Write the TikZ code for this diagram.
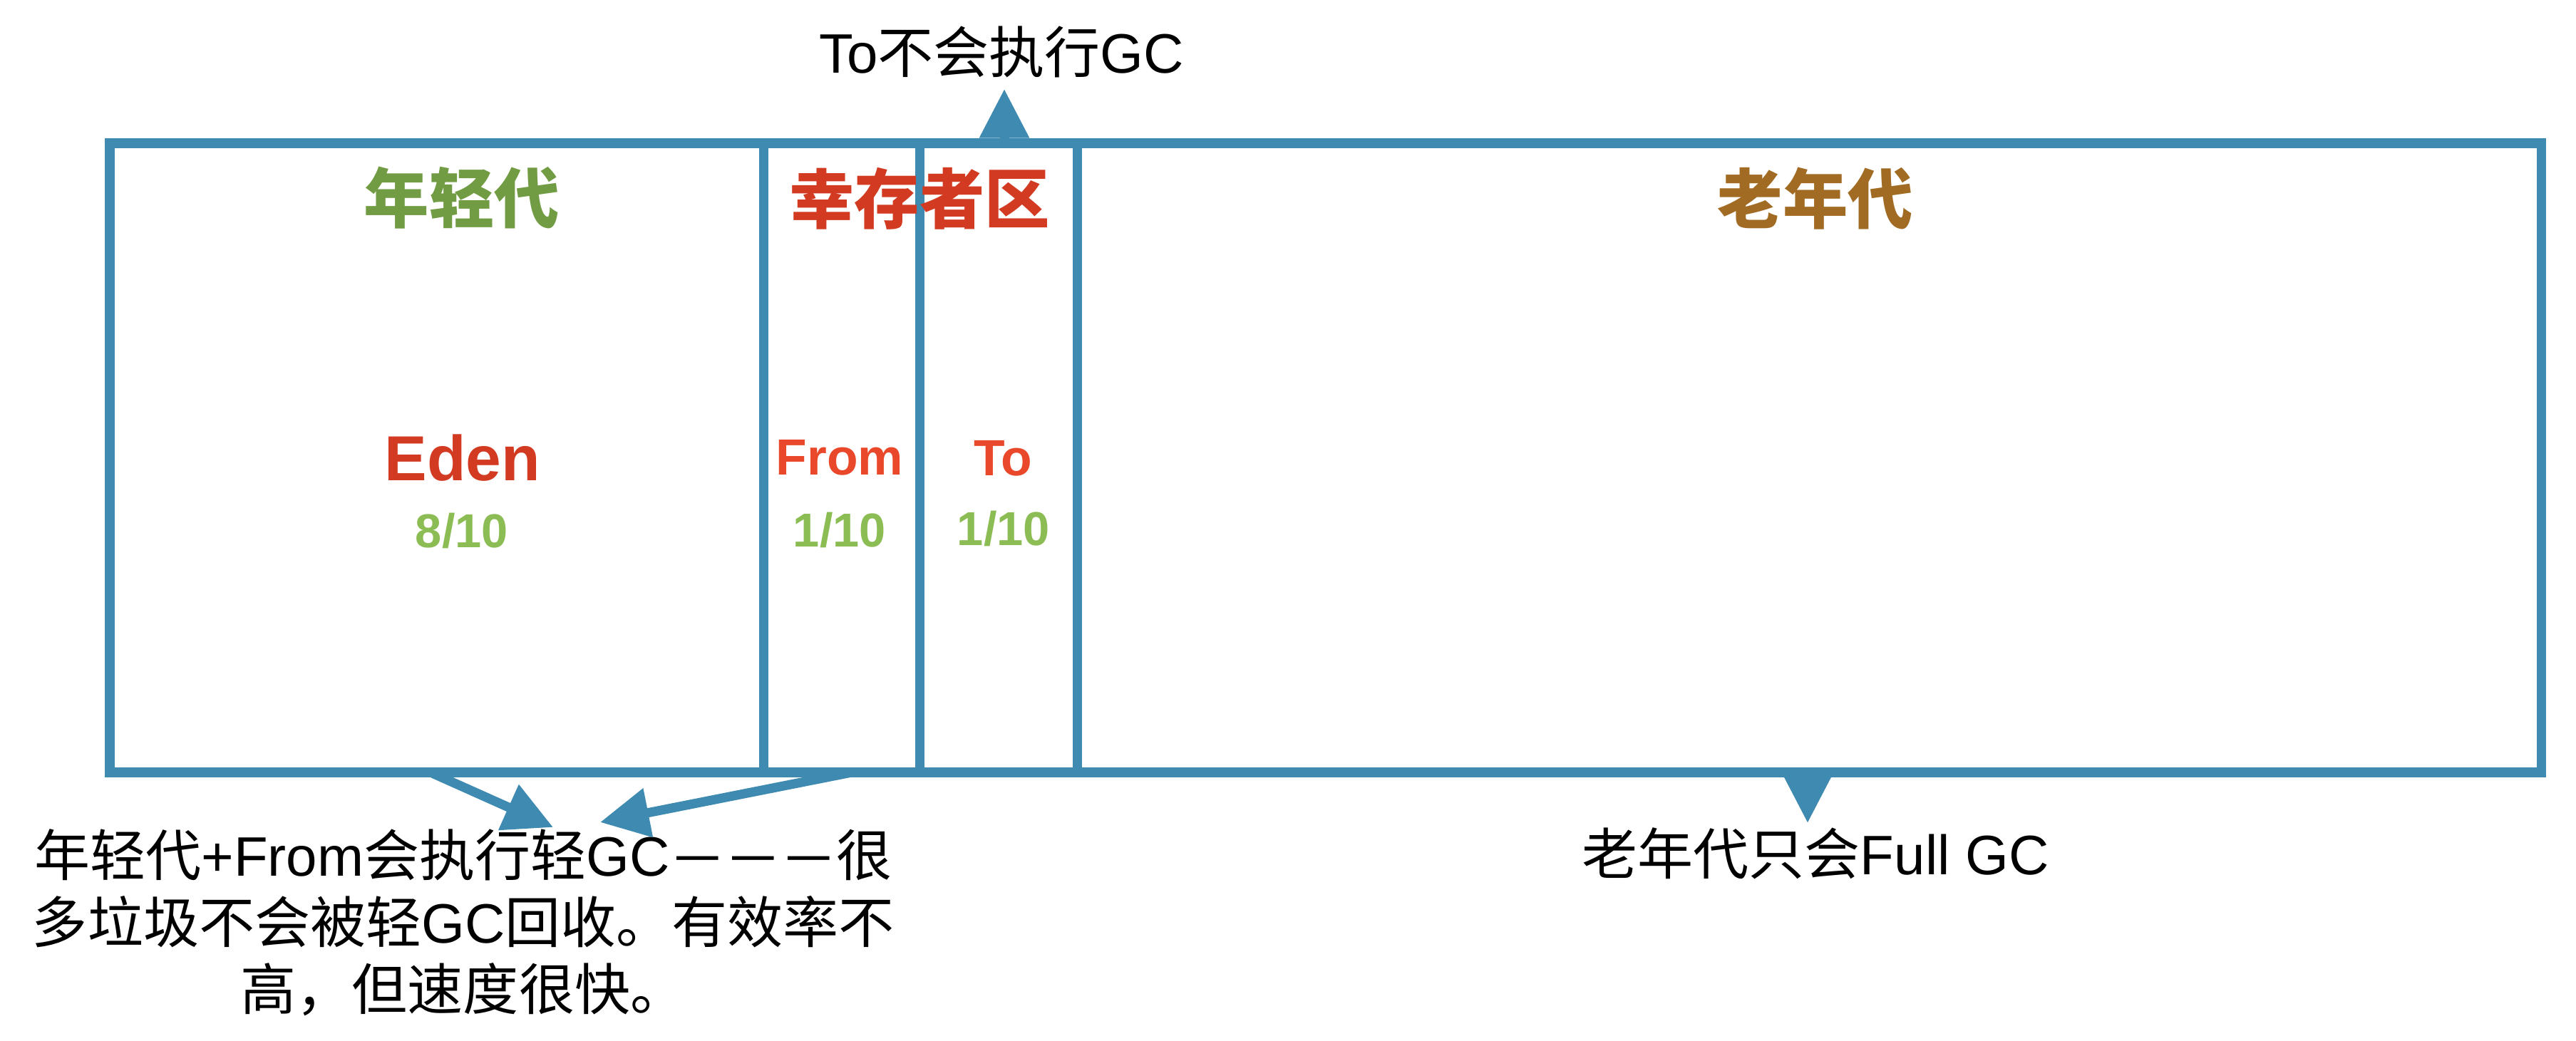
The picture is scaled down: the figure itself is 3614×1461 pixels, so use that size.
\documentclass[tikz,border=0pt]{standalone}
\usepackage{fontspec}
\usepackage{graphicx}
\setmainfont{Liberation Sans}
\newfontfamily\cjk{Noto Sans CJK SC}
\usetikzlibrary{arrows.meta}
\definecolor{heapblue}{RGB}{62,138,176}
\definecolor{younggreen}{RGB}{114,156,68}
\definecolor{ratiogreen}{RGB}{140,188,84}
\definecolor{survivorred}{RGB}{210,58,34}
\definecolor{spacered}{RGB}{234,72,42}
\definecolor{oldbrown}{RGB}{161,107,35}
% one full width dash with some room round it
\newcommand\gcdash{\makebox[1em]{\raisebox{0.07em}{\scalebox{0.75}[1]{—}}}}
\tikzset{
  wall/.style={draw=heapblue, line width=3.7pt},
  gcarrow/.style={draw=heapblue, line width=3.7pt, -{Triangle[length=19.5pt,width=19pt]}},
  areaname/.style={inner sep=0pt, font=\fontsize{26pt}{31pt}\selectfont\cjk\bfseries},
  spacename/.style={inner sep=0pt, text=spacered, font=\fontsize{20.3pt}{24pt}\selectfont\bfseries},
  ratio/.style={inner sep=0pt, text=ratiogreen, font=\fontsize{19pt}{23pt}\selectfont\bfseries},
  note/.style={inner sep=0pt, align=center, font=\fontsize{22.2pt}{26.7pt}\selectfont}
}
\begin{document}
\begin{tikzpicture}[x=0.01cm,y=-0.01cm]
\useasboundingbox (0,0) rectangle (3614,1461);
% heap outline, the cuts are eden | from | to | old
\draw[wall] (154,201) rectangle (3565,1084);
\foreach \cut in {1071,1290,1511}
  \draw[wall] (\cut,201) -- (\cut,1084);

% area names
\node[areaname, text=younggreen] (young) at (648,278) {年轻代};
\node[areaname, text=survivorred] (survivor) at (1290,279) {幸存者区};
\node[areaname, text=oldbrown] (old) at (2547,279) {老年代};

% spaces and their share
\node[inner sep=0pt, text=survivorred, font=\fontsize{25.4pt}{30pt}\selectfont\bfseries] (eden) at (649,643) {Eden};
\node[ratio] (edenratio) at (648,745) {8/10};
\node[spacename] (from) at (1178,642) {From};
\node[ratio] (fromratio) at (1178,744) {1/10};
\node[spacename] (to) at (1407,643) {To};
\node[ratio] (toratio) at (1408,742) {1/10};

% notes
\node[note] (tonote) at (1405,73) {To{\cjk 不会执行}GC};
\node[note] (minornote) at (650,1295) {{\cjk 年轻代}+From{\cjk 会执行轻}GC\gcdash\gcdash\gcdash{\cjk 很}\\
  {\cjk 多垃圾不会被轻}GC{\cjk 回收。有效率不}\\ {\cjk 高，但速度很快。}};
\node[note] (fullnote) at (2547,1198) {{\cjk 老年代只会}Full GC};

% arrows
\coordinate (toout) at (1409,201);
\coordinate (tonotein) at (1409,125);
\coordinate (edenout) at (604,1084);
\coordinate (fromout) at (1195,1084);
\coordinate (minorinA) at (776,1161);
\coordinate (minorinB) at (842,1154);
\coordinate (oldout) at (2536,1084);
\coordinate (fullin) at (2536,1155);
\draw[gcarrow] (toout) -- (tonotein);
\draw[gcarrow] (edenout) -- (minorinA);
\draw[gcarrow] (fromout) -- (minorinB);
\draw[gcarrow] (oldout) -- (fullin);
\end{tikzpicture}
\end{document}
